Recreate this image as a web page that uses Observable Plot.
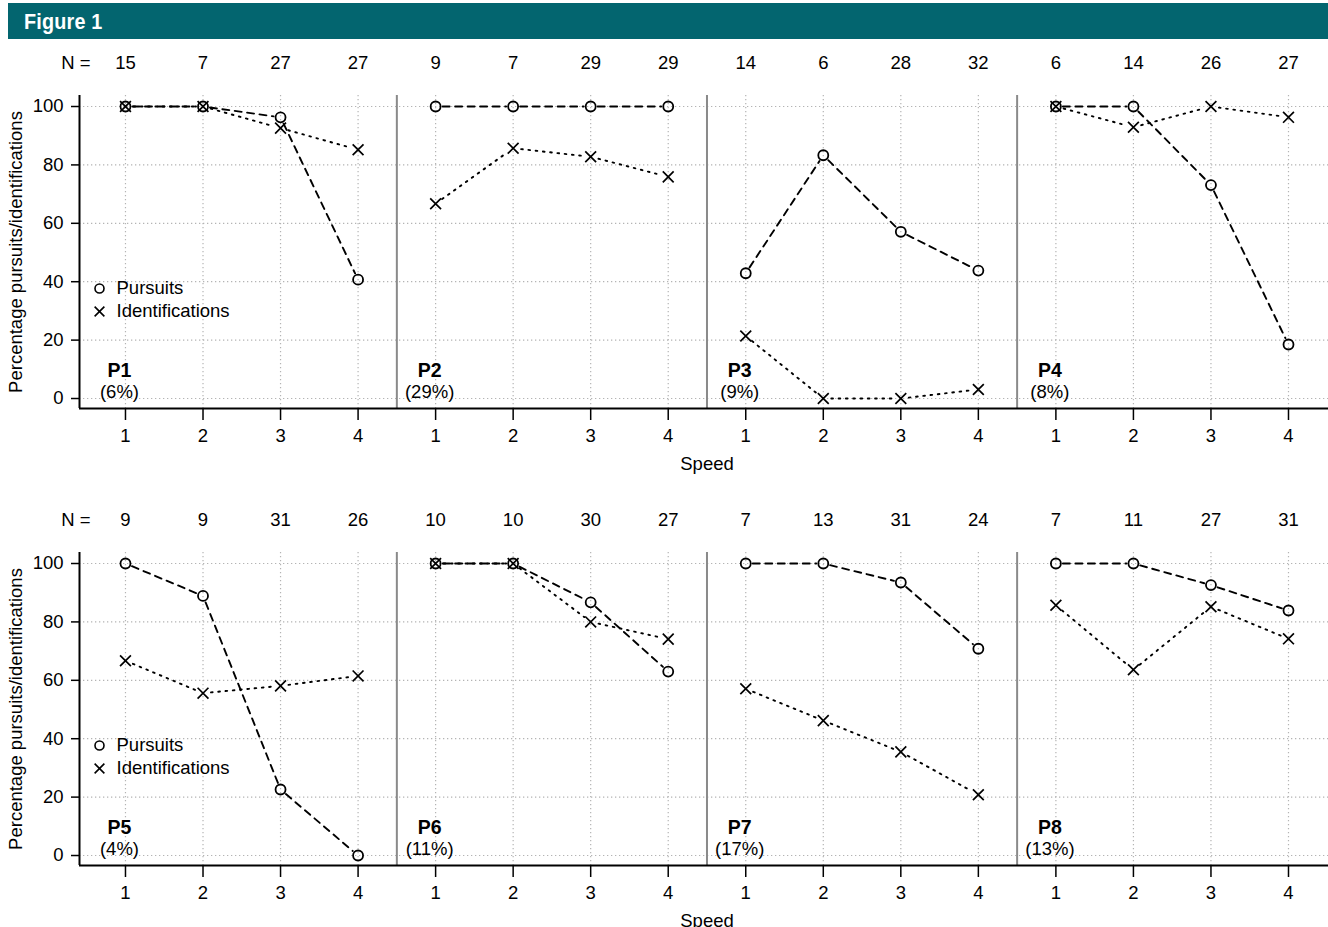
<!DOCTYPE html>
<html><head><meta charset="utf-8">
<script src="https://cdn.jsdelivr.net/npm/d3@7"></script>
<script src="https://cdn.jsdelivr.net/npm/@observablehq/plot@0.6"></script>
<style>
html,body{margin:0;padding:0;background:#fff;width:1328px;height:927px;overflow:hidden;}
#hdr{position:absolute;left:8px;top:3px;width:1320px;height:36px;background:#03656f;}
#hdr span{position:absolute;left:16px;top:6px;color:#fff;font-weight:bold;font-size:22px;font-family:"Liberation Sans",Arial,sans-serif;transform:scaleX(0.9);transform-origin:left center;display:inline-block;letter-spacing:0.2px;}
#row1{position:absolute;left:0;top:40px;}
#row2{position:absolute;left:0;top:497px;}
</style></head><body>
<div id="hdr"><span>Figure 1</span></div>
<div id="row1"></div><div id="row2"></div>
<script>
const speeds = [1, 2, 3, 4];
const speedLabels = ["1", "2", "3", "4"];
const yTicks = [0, 20, 40, 60, 80, 100];
const seriesNames = ["Pursuits", "Identifications"];

const panelsTop = ["P1", "P2", "P3", "P4"];
const sharesTop = ["(6%)", "(29%)", "(9%)", "(8%)"];
const nTop = [[15, 7, 27, 27], [9, 7, 29, 29], [14, 6, 28, 32], [6, 14, 26, 27]];
const pursuitsTop = [[100, 100, 96.3, 40.7], [100, 100, 100, 100], [42.9, 83.3, 57.1, 43.8], [100, 100, 73.1, 18.5]];
const identificationsTop = [[100, 100, 92.6, 85.2], [66.7, 85.7, 82.8, 75.9], [21.4, 0, 0, 3.1], [100, 92.9, 100, 96.3]];

const panelsBottom = ["P5", "P6", "P7", "P8"];
const sharesBottom = ["(4%)", "(11%)", "(17%)", "(13%)"];
const nBottom = [[9, 9, 31, 26], [10, 10, 30, 27], [7, 13, 31, 24], [7, 11, 27, 31]];
const pursuitsBottom = [[100, 88.9, 22.6, 0], [100, 100, 86.7, 63.0], [100, 100, 93.5, 70.8], [100, 100, 92.6, 83.9]];
const identificationsBottom = [[66.7, 55.6, 58.1, 61.5], [100, 100, 80.0, 74.1], [57.1, 46.2, 35.5, 20.8], [85.7, 63.6, 85.2, 74.2]];

const xDomain = [0.407, 16.516];
const yDomain = [-3.42, 103.77];
const FONT = "'Liberation Sans', Arial, Helvetica, sans-serif";

function row(panels, shares, ns, purs, idents) {
  const pts = [];
  panels.forEach((p, i) => speeds.forEach((s, j) => pts.push({
    panel: p, speed: s, pos: i * speeds.length + s, n: ns[i][j], pursuit: purs[i][j], ident: idents[i][j]
  })));
  const seg = key => pts.filter(d => d.speed < speeds[speeds.length - 1]).map(d => {
    const e = pts.find(q => q.panel === d.panel && q.speed === d.speed + 1);
    return {x1: d.pos, y1: d[key], x2: e.pos, y2: e[key]};
  });
  const firsts = panels.map((p, i) => ({panel: p, share: shares[i], pos: i * speeds.length + speeds[0]}));
  const seps = panels.slice(1).map((p, i) => (i + 1) * speeds.length + 0.5);
  const positions = pts.map(d => d.pos);
  const grid = {stroke: "#b4b4b4", strokeOpacity: 1, strokeWidth: 1.2, strokeDasharray: "1.3,2.7"};
  return Plot.plot({
    width: 1328, height: 440,
    marginLeft: 79, marginRight: 0, marginTop: 55, marginBottom: 72,
    style: {fontFamily: FONT, fontSize: "18.5px", background: "white", color: "black"},
    x: {domain: xDomain, axis: null},
    y: {domain: yDomain, axis: null},
    marks: [
      Plot.gridX(positions, grid),
      Plot.gridY(yTicks, grid),
      Plot.ruleX(seps, {stroke: "#8a8a8a", strokeWidth: 2}),
      Plot.ruleX([xDomain[0]], {stroke: "black", strokeWidth: 2}),
      Plot.ruleY([yDomain[0]], {stroke: "black", strokeWidth: 2}),
      Plot.axisX(positions, {tickSize: 12, tickPadding: 8, strokeWidth: 1.5, label: null,
        tickFormat: d => speedLabels[(d - 1) % speeds.length]}),
      Plot.axisY(yTicks, {tickSize: 8, tickPadding: 8, strokeWidth: 1.5, label: null}),
      Plot.text(["Percentage pursuits/identifications"], {text: d => d, frameAnchor: "left", dx: -63, rotate: -90, textAnchor: "middle", lineAnchor: "middle"}),
      Plot.text(["Speed"], {text: d => d, frameAnchor: "bottom", dx: 3, dy: 56, lineAnchor: "middle"}),
      Plot.text(["N ="], {text: d => d, frameAnchor: "top-left", dx: 11, dy: -32, textAnchor: "end", lineAnchor: "middle"}),
      Plot.text(pts, {x: "pos", text: "n", frameAnchor: "top", dy: -32, lineAnchor: "middle"}),
      Plot.text(firsts, {x: "pos", text: "panel", frameAnchor: "bottom", dx: -6, dy: -38, lineAnchor: "middle", fontWeight: "bold", fontSize: 19.5}),
      Plot.text(firsts, {x: "pos", text: "share", frameAnchor: "bottom", dx: -6, dy: -16, lineAnchor: "middle"}),
      Plot.arrow(seg("pursuit"), {x1: "x1", y1: "y1", x2: "x2", y2: "y2", headLength: 0, insetStart: 7, insetEnd: 7,
        stroke: "black", strokeWidth: 1.9, strokeDasharray: "7,5.5"}),
      Plot.arrow(seg("ident"), {x1: "x1", y1: "y1", x2: "x2", y2: "y2", headLength: 0, insetStart: 8, insetEnd: 8,
        stroke: "black", strokeWidth: 1.9, strokeDasharray: "1.7,5.6"}),
      Plot.dot(pts, {x: "pos", y: "pursuit", symbol: "circle", r: 5, stroke: "black", strokeWidth: 1.8, fill: "none"}),
      Plot.dot(pts, {x: "pos", y: "ident", symbol: "times", r: 5, stroke: "black", strokeWidth: 1.7})
    ]
  });
}

function legend() {
  return [
    Plot.dot([seriesNames[0]], {frameAnchor: "left", dx: 20, dy: 36.5, symbol: "circle", r: 4.5, stroke: "black", strokeWidth: 1.6, fill: "none"}),
    Plot.text([seriesNames[0]], {text: d => d, frameAnchor: "left", dx: 37, dy: 36.5, textAnchor: "start", lineAnchor: "middle"}),
    Plot.dot([seriesNames[1]], {frameAnchor: "left", dx: 20, dy: 59.5, symbol: "times", r: 4.5, stroke: "black", strokeWidth: 1.6}),
    Plot.text([seriesNames[1]], {text: d => d, frameAnchor: "left", dx: 37, dy: 59.5, textAnchor: "start", lineAnchor: "middle"})
  ];
}

function build(el, panels, shares, ns, purs, idents) {
  const chart = row(panels, shares, ns, purs, idents);
  const leg = Plot.plot({
    width: 1328, height: 440, marginLeft: 79, marginRight: 0, marginTop: 55, marginBottom: 72,
    style: {fontFamily: FONT, fontSize: "18.5px", background: "transparent", color: "black"},
    x: {domain: xDomain, axis: null}, y: {domain: yDomain, axis: null},
    marks: legend()
  });
  const wrap = document.getElementById(el);
  wrap.style.width = "1328px"; wrap.style.height = "440px";
  chart.style.position = "absolute"; chart.style.left = "0"; chart.style.top = "0";
  leg.style.position = "absolute"; leg.style.left = "0"; leg.style.top = "0";
  wrap.appendChild(chart);
  wrap.appendChild(leg);
}

build("row1", panelsTop, sharesTop, nTop, pursuitsTop, identificationsTop);
build("row2", panelsBottom, sharesBottom, nBottom, pursuitsBottom, identificationsBottom);
</script></body></html>
